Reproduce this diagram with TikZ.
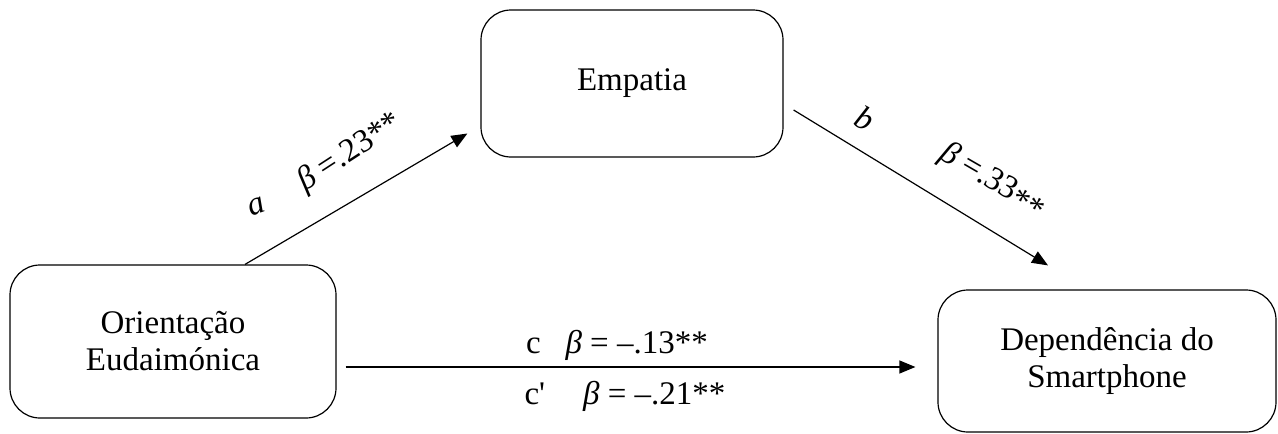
\documentclass[tikz,border=0pt]{standalone}
\usepackage{fontspec}
\setmainfont{Liberation Serif}
\newfontfamily\plainserif{Liberation Serif}
\usetikzlibrary{arrows.meta,calc}
\begin{document}
\begin{tikzpicture}[x=1pt,y=-1pt,
  box/.style={draw,line width=1.2pt,rounded corners=30pt,align=center,inner sep=0pt,font=\fontsize{33}{37}\selectfont},
  conn/.style={line width=1.2pt,-{Triangle[length=16pt,width=13pt]}},
  lab/.style={font=\fontsize{33}{37}\selectfont,inner sep=0pt}]
\useasboundingbox (0,0) rectangle (1278,434);
\node[box,minimum width=302pt,minimum height=147pt] (emp) at (632,83.5) {Empatia};
\node[box,minimum width=326pt,minimum height=153pt] (orient) at (173,341.5) {Orientação\\Eudaimónica};
\node[box,minimum width=338pt,minimum height=142pt] (dep) at (1107,361) {Dependência do\\Smartphone};
\draw[conn] ($(orient.north)+(72,0)$) -- ($(emp.west)+(-13,50)$);
\draw[conn] ($(emp.east)+(10,26.5)$) -- ($(dep.north)+(-59,-24)$);
\draw[conn] ($(orient.east)+(9,25.5)$) -- ($(dep.west)+(-22,6)$);
\node[lab,rotate=20] (la) at (257,207) {\textit{a}};
\node[lab,rotate=33] (lba) at (350,153) {\textit{β} =.23**};
\node[lab,rotate=-28] (lb) at (865,118) {\textit{b}};
\node[lab,rotate=-30] (lbb) at (993,181) {\textit{β} =.33\raisebox{-0.35ex}{**}};
\node[lab] (lc) at (617,345) {c\hspace{0.5em} \textit{β} = –.13**};
\node[lab] (lcp) at (625,396) {{\plainserif c'}\hspace{0.9em} \textit{β} = –.21**};
\end{tikzpicture}
\end{document}
